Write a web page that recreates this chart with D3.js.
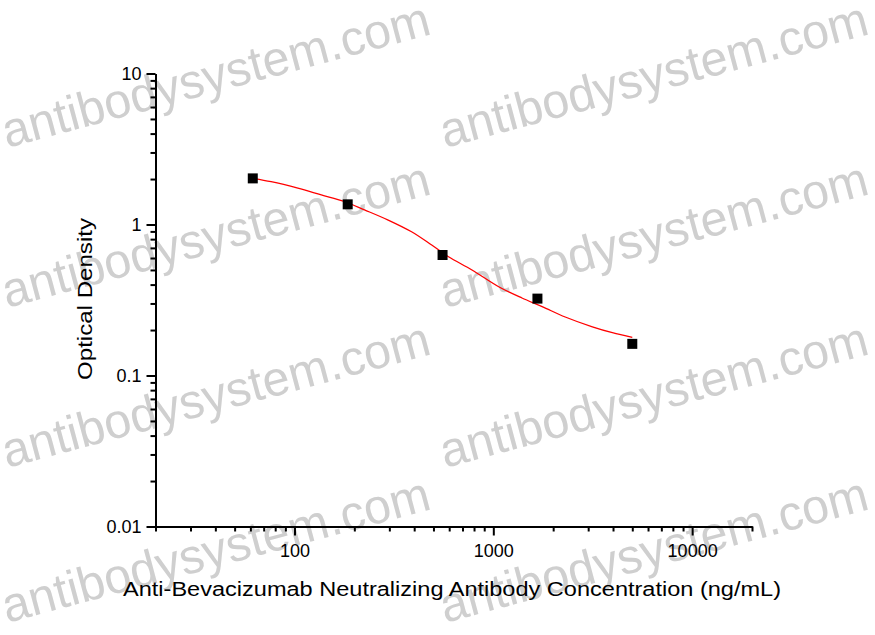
<!DOCTYPE html>
<html>
<head>
<meta charset="utf-8">
<script src="https://cdn.jsdelivr.net/npm/d3@7"></script>
<style>
  html, body { margin: 0; padding: 0; background: #ffffff; }
  svg { display: block; }
  text { font-family: Arial, "Liberation Sans", sans-serif; }
</style>
</head>
<body>
<svg id="chart" width="875" height="635"></svg>
<script>
// ---- data ----
const concentrations = [61.7, 185.2, 555.6, 1666.7, 5000];        // ng/mL
const odValues       = [2.02, 1.36, 0.628, 0.323, 0.162];          // Optical Density
// fitted curve
const fitConc = [61.7, 76.3, 104, 136.4, 178, 225, 296, 388, 490, 595, 781, 1064, 1393, 1760, 2300, 3150, 3970, 5000];
const fitOD   = [2.02, 1.92, 1.74, 1.57, 1.42, 1.25, 1.07, 0.895, 0.731, 0.612, 0.50, 0.387, 0.326, 0.286, 0.244, 0.210, 0.192, 0.179];
const xMajorTicks = [100, 1000, 10000];
const xMinorTicks = [20,30,40,50,60,70,80,90,200,300,400,500,600,700,800,900,2000,3000,4000,5000,6000,7000,8000,9000,20000];
const yMajorTicks = [0.01, 0.1, 1, 10];
const yMinorTicks = [0.02,0.03,0.04,0.05,0.06,0.07,0.08,0.09,0.2,0.3,0.4,0.5,0.6,0.7,0.8,0.9,2,3,4,5,6,7,8,9];
const xTitle = "Anti-Bevacizumab Neutralizing Antibody Concentration (ng/mL)";
const yTitle = "Optical Density";
const watermarkText = "antibodysystem.com";
const watermarkSpots = [[7,148],[445,148],[7,308],[445,308],[7,468],[445,468],[7,623],[445,623]];

// ---- layout ----
const svg = d3.select("#chart");
const plotLeft = 155.5, plotRight = 752, plotTop = 73.5, plotBottom = 526.5;

// watermark (behind)
const wm = svg.append("g");
watermarkSpots.forEach(([wx, wy]) => {
  wm.append("text")
    .attr("transform", `translate(${wx},${wy}) rotate(-15)`)
    .attr("font-size", 49)
    .attr("textLength", 441).attr("lengthAdjust", "spacingAndGlyphs")
    .attr("fill", "#cfcfcf")
    .text(watermarkText);
});

const x = d3.scaleLog().domain([20, 20000]).range([plotLeft, plotRight]);
const y = d3.scaleLog().domain([0.01, 10]).range([plotBottom, plotTop]);

// x axis
const gx = svg.append("g").attr("transform", `translate(0,${plotBottom})`);
gx.call(d3.axisBottom(x).tickValues(xMinorTicks).tickSize(5).tickSizeOuter(0).tickFormat(""));
const gx2 = svg.append("g").attr("transform", `translate(0,${plotBottom})`);
gx2.call(d3.axisBottom(x).tickValues(xMajorTicks).tickSize(9).tickSizeOuter(0).tickPadding(9).tickFormat(d3.format("d")));
[gx, gx2].forEach(g => {
  g.selectAll("path.domain").attr("stroke", "#000").attr("stroke-width", 2);
  g.selectAll(".tick line").attr("stroke", "#000").attr("stroke-width", 2);
  g.selectAll(".tick text").attr("font-size", 18).attr("fill", "#000").attr("font-family", "Arial, 'Liberation Sans', sans-serif");
});

// y axis
const gy = svg.append("g").attr("transform", `translate(${plotLeft},0)`);
gy.call(d3.axisLeft(y).tickValues(yMinorTicks).tickSize(5).tickSizeOuter(0).tickFormat(""));
const gy2 = svg.append("g").attr("transform", `translate(${plotLeft},0)`);
gy2.call(d3.axisLeft(y).tickValues(yMajorTicks).tickSize(9).tickSizeOuter(0).tickPadding(5).tickFormat(d => String(d)));
[gy, gy2].forEach(g => {
  g.selectAll("path.domain").attr("stroke", "#000").attr("stroke-width", 2);
  g.selectAll(".tick line").attr("stroke", "#000").attr("stroke-width", 2);
  g.selectAll(".tick text").attr("font-size", 18).attr("fill", "#000").attr("font-family", "Arial, 'Liberation Sans', sans-serif");
});

// fitted curve
const fit = fitConc.map((c,i) => ({c, v: fitOD[i]}));
svg.append("path")
  .datum(fit)
  .attr("fill", "none")
  .attr("stroke", "#ff0000")
  .attr("stroke-width", 1.3)
  .attr("d", d3.line().x(d => x(d.c)).y(d => y(d.v)).curve(d3.curveCatmullRom));

// data points
const pts = concentrations.map((c,i) => ({c, v: odValues[i]}));
svg.append("g").selectAll("path")
  .data(pts).enter().append("path")
  .attr("transform", d => `translate(${x(d.c)},${y(d.v)})`)
  .attr("d", d3.symbol().type(d3.symbolSquare).size(100))
  .attr("fill", "#000");

// titles
svg.append("text")
  .attr("x", 452).attr("y", 596)
  .attr("text-anchor", "middle")
  .attr("font-size", 20)
  .attr("textLength", 658).attr("lengthAdjust", "spacingAndGlyphs")
  .attr("fill", "#000")
  .text(xTitle);

svg.append("text")
  .attr("transform", "translate(92,299) rotate(-90)")
  .attr("text-anchor", "middle")
  .attr("font-size", 21)
  .attr("textLength", 162).attr("lengthAdjust", "spacingAndGlyphs")
  .attr("fill", "#000")
  .text(yTitle);
</script>
</body>
</html>
